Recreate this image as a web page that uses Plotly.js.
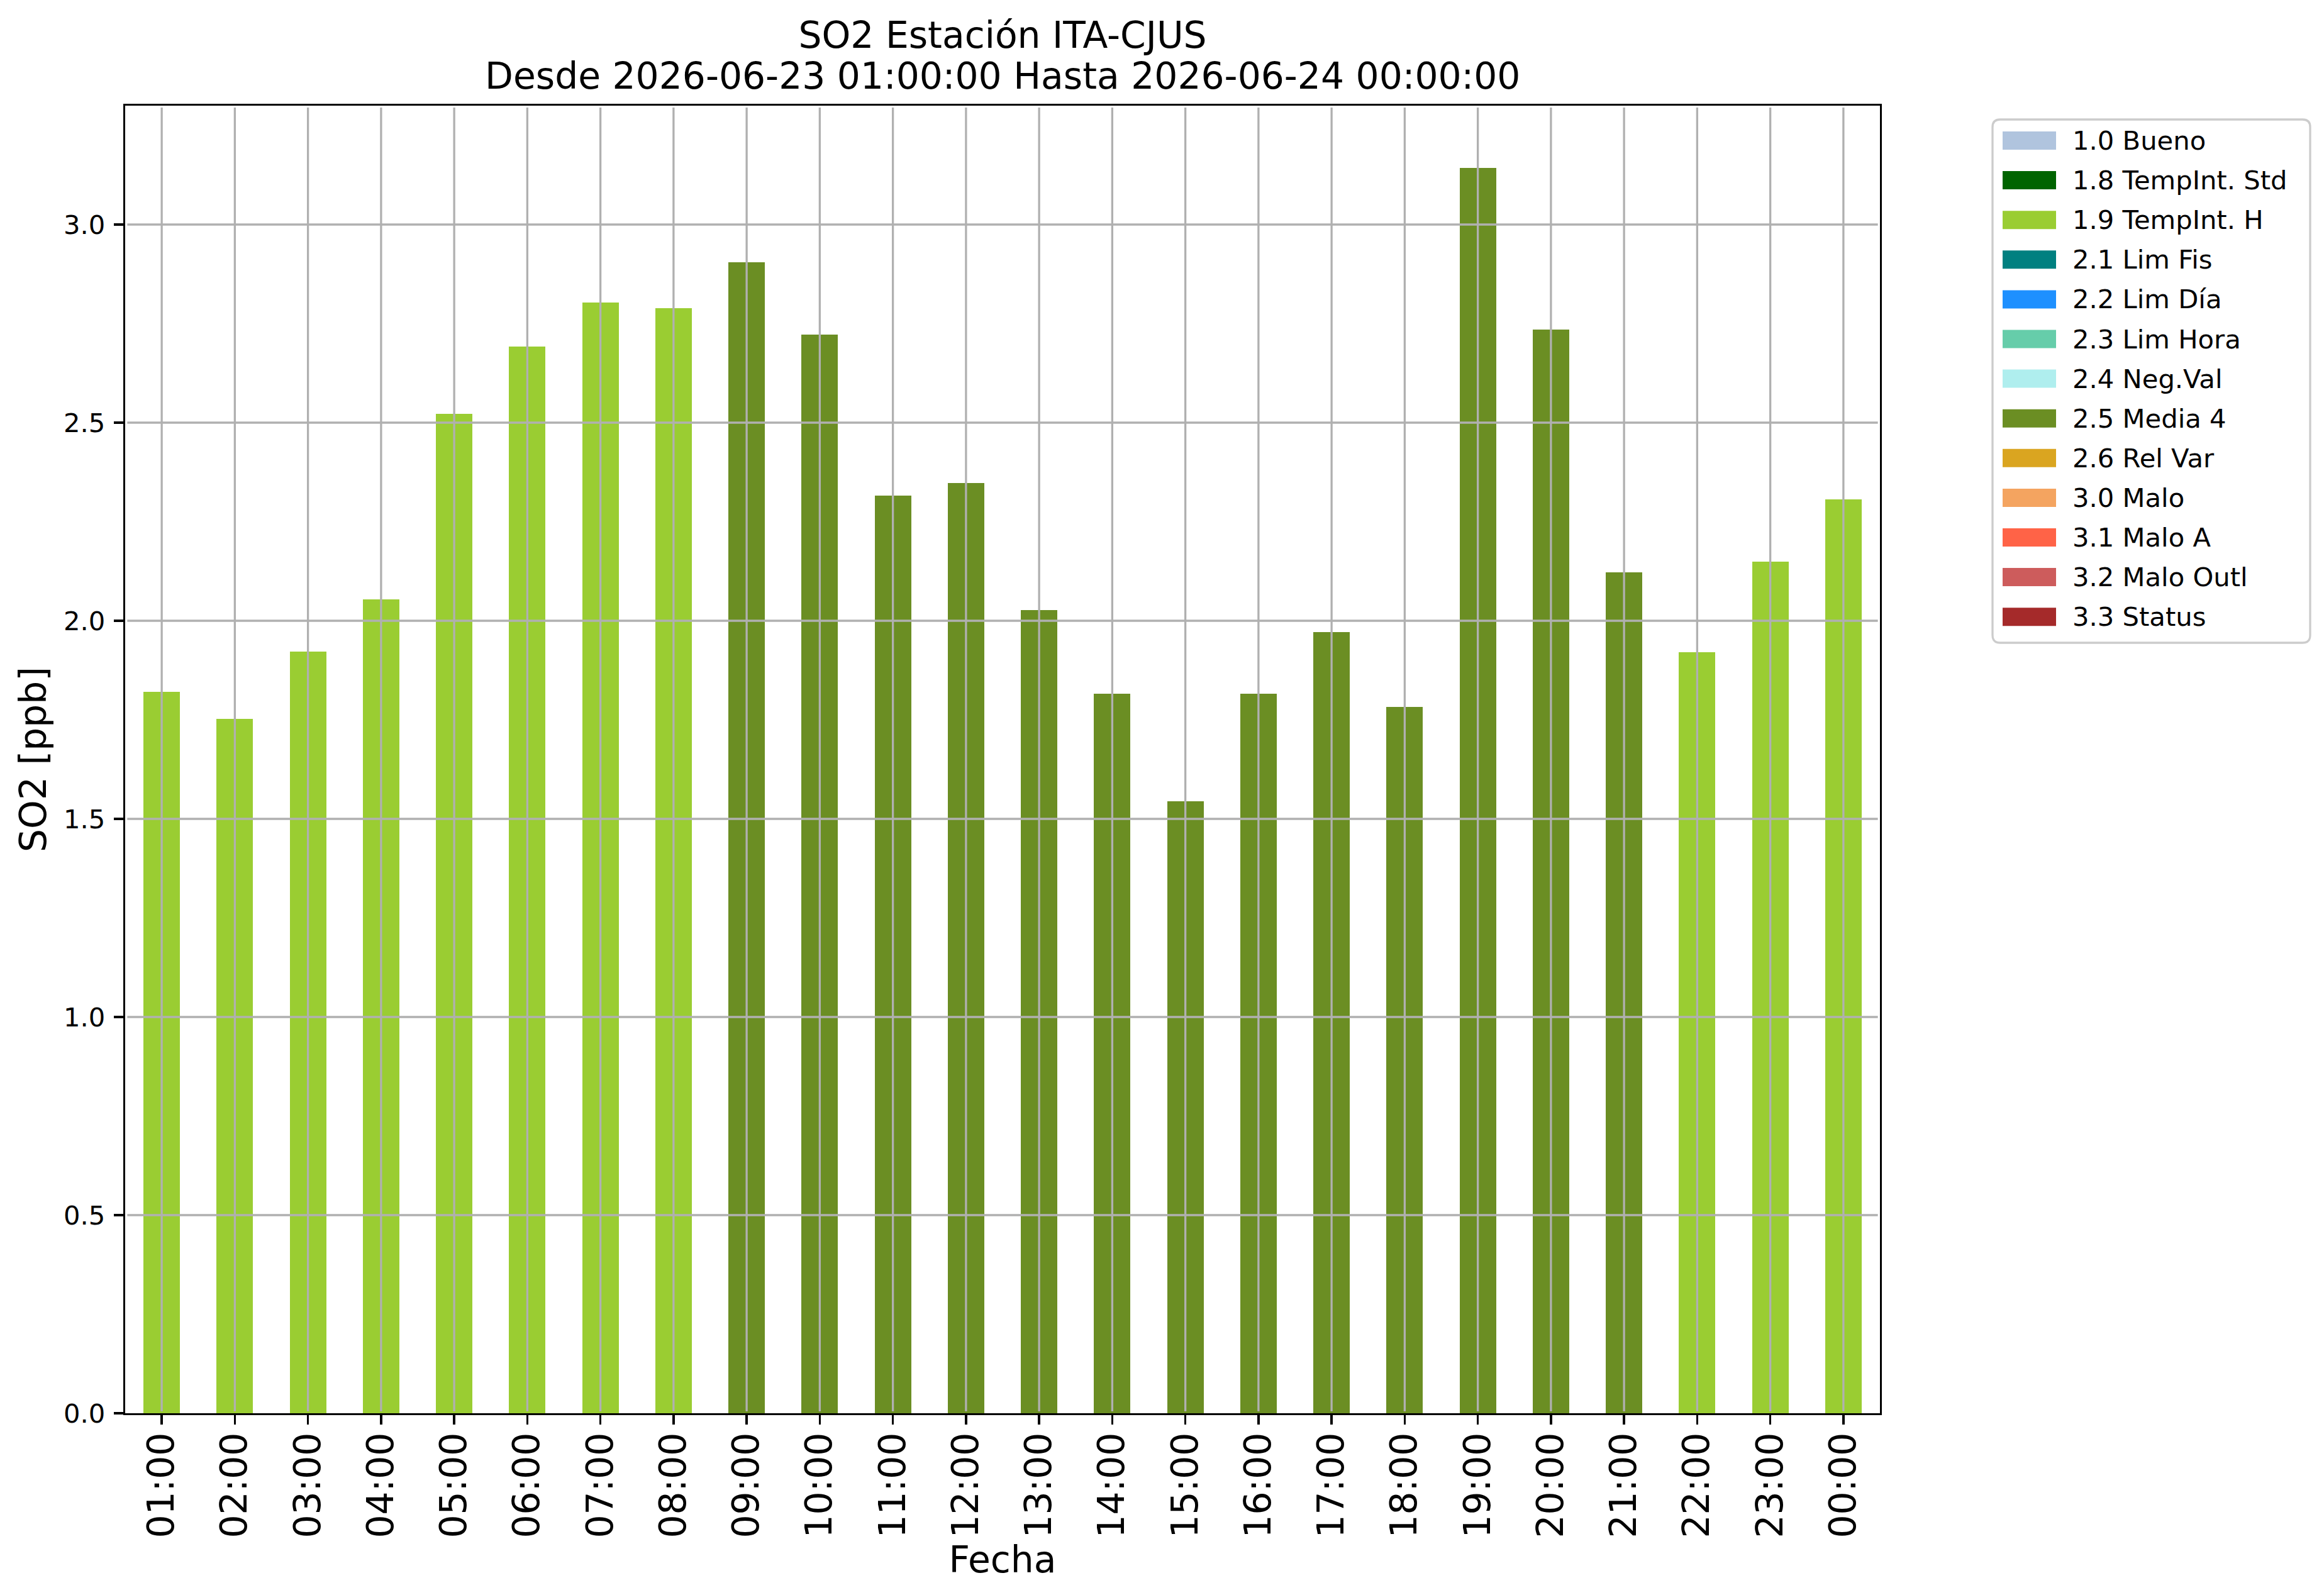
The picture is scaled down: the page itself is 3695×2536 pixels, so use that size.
<!DOCTYPE html>
<html>
<head>
<meta charset="utf-8">
<script src="https://cdn.plot.ly/plotly-3.0.1.min.js"></script>
<style>html,body{margin:0;padding:0;background:#fff;}</style>
</head>
<body>
<div id="chart" style="width:3695px;height:2536px;"></div>
<script>
// ---- data ----
var hours = ['01:00','02:00','03:00','04:00','05:00','06:00','07:00','08:00','09:00','10:00','11:00','12:00',
             '13:00','14:00','15:00','16:00','17:00','18:00','19:00','20:00','21:00','22:00','23:00','00:00'];
var so2 = [1.821, 1.753, 1.922, 2.054, 2.522, 2.692, 2.803, 2.789, 2.904, 2.722, 2.316, 2.347,
           2.027, 1.816, 1.544, 1.816, 1.971, 1.782, 3.143, 2.735, 2.122, 1.921, 2.150, 2.307];
var flags = ['1.9 TempInt. H','1.9 TempInt. H','1.9 TempInt. H','1.9 TempInt. H','1.9 TempInt. H','1.9 TempInt. H',
             '1.9 TempInt. H','1.9 TempInt. H','2.5 Media 4','2.5 Media 4','2.5 Media 4','2.5 Media 4',
             '2.5 Media 4','2.5 Media 4','2.5 Media 4','2.5 Media 4','2.5 Media 4','2.5 Media 4',
             '2.5 Media 4','2.5 Media 4','2.5 Media 4','1.9 TempInt. H','1.9 TempInt. H','1.9 TempInt. H'];
var flagNames = ['1.0 Bueno','1.8 TempInt. Std','1.9 TempInt. H','2.1 Lim Fis','2.2 Lim Día','2.3 Lim Hora',
                 '2.4 Neg.Val','2.5 Media 4','2.6 Rel Var','3.0 Malo','3.1 Malo A','3.2 Malo Outl','3.3 Status'];
var flagColors = ['#B0C4DE','#006400','#9ACD32','#008080','#1E90FF','#66CDAA',
                  '#AFEEEE','#6B8E23','#DAA520','#F4A460','#FF6347','#CD5C5C','#A52A2A'];
var yTickVals = [0, 0.5, 1.0, 1.5, 2.0, 2.5, 3.0];
var yTickText = ['0.0','0.5','1.0','1.5','2.0','2.5','3.0'];
var titleLine1 = 'SO2 Estación ITA-CJUS';
var titleLine2 = 'Desde 2026-06-23 01:00:00 Hasta 2026-06-24 00:00:00';

// ---- geometry ----
var W = 3695, H = 2536;
var L = 199, R = 2989, T = 168, B = 2247;
var FONT = 'DejaVu Sans, Verdana, sans-serif';
function px(x){ return (x - L) / (R - L); }
function py(y){ return (B - y) / (B - T); }

var traces = flagNames.map(function(name, k){
  return {
    type: 'bar',
    name: name,
    x: hours,
    y: so2.map(function(v, i){ return flags[i] === name ? v : 0; }),
    width: 0.5,
    marker: {color: flagColors[k], line: {width: 0}},
    showlegend: false,
    hoverinfo: 'x+y+name'
  };
});

var shapes = [];
var gridColor = '#b0b0b0', gridW = 3.3;
hours.forEach(function(h, i){
  shapes.push({type:'line', xref:'x', yref:'paper', x0:i, x1:i, y0:0.0015, y1:0.9985,
               line:{color:gridColor, width:gridW}, layer:'above'});
});
yTickVals.forEach(function(v){
  if (v === 0) return;
  shapes.push({type:'line', xref:'paper', yref:'y', x0:0.0012, x1:0.9988, y0:v, y1:v,
               line:{color:gridColor, width:gridW}, layer:'above'});
});

// legend box (rounded)
var bx0 = 3168, bx1 = 3673, by0 = 190, by1 = 1022, rr = 12;
function P(x, y){ return px(x) + ',' + py(y); }
var path = 'M' + P(bx0 + rr, by0) + ' L' + P(bx1 - rr, by0) + ' Q' + P(bx1, by0) + ' ' + P(bx1, by0 + rr) +
           ' L' + P(bx1, by1 - rr) + ' Q' + P(bx1, by1) + ' ' + P(bx1 - rr, by1) +
           ' L' + P(bx0 + rr, by1) + ' Q' + P(bx0, by1) + ' ' + P(bx0, by1 - rr) +
           ' L' + P(bx0, by0 + rr) + ' Q' + P(bx0, by0) + ' ' + P(bx0 + rr, by0) + ' Z';
shapes.push({type:'path', xref:'paper', yref:'paper', path:path,
             fillcolor:'rgba(255,255,255,0.8)', line:{color:'#cccccc', width:3.3}, layer:'above'});

var annotations = [];
var row0 = 223.5, rowStep = 63.1;
flagNames.forEach(function(name, k){
  var cy = row0 + k * rowStep;
  shapes.push({type:'rect', xref:'paper', yref:'paper',
               x0:px(3184), x1:px(3269), y0:py(cy + 14.5), y1:py(cy - 14.5),
               fillcolor:flagColors[k], line:{width:0}, layer:'above'});
  annotations.push({xref:'paper', yref:'paper', x:px(3293), y:py(cy), xanchor:'left', yanchor:'middle',
                    text:name, showarrow:false, font:{family:FONT, size:41.7, color:'#000'}});
});
// second title line
annotations.push({xref:'paper', yref:'paper', x:px(1594), y:py(121), xanchor:'center', yanchor:'middle',
                  text:titleLine2, showarrow:false, font:{family:FONT, size:58.3, color:'#000'}});

var layout = {
  width: W, height: H,
  paper_bgcolor: '#fff', plot_bgcolor: '#fff',
  margin: {l: L, r: W - R, t: T, b: H - B, pad: 0},
  barmode: 'stack',
  showlegend: false,
  font: {family: FONT, color: '#000'},
  title: {text: titleLine1, x: px(1594), xref: 'paper', xanchor: 'center',
          y: 1 - 56 / H, yref: 'container', yanchor: 'middle',
          font: {family: FONT, size: 58.3, color: '#000'}},
  xaxis: {
    type: 'category', range: [-0.5, 23.5], autorange: false,
    showgrid: false, zeroline: false,
    showline: true, linecolor: '#000', linewidth: 3.3, mirror: true,
    ticks: 'outside', ticklen: 15, tickwidth: 3.3, tickcolor: '#000',
    tickangle: -90, tickfont: {family: FONT, size: 58.3, color: '#000'},
    ticklabelstandoff: -11,
    title: {text: 'Fecha', font: {family: FONT, size: 58.3, color: '#000'}, standoff: 8},
    automargin: false, layer: 'above traces'
  },
  yaxis: {
    range: [0, 3.3], autorange: false,
    tickvals: yTickVals, ticktext: yTickText,
    showgrid: false, zeroline: false,
    showline: true, linecolor: '#000', linewidth: 3.3, mirror: true,
    ticks: 'outside', ticklen: 15, tickwidth: 3.3, tickcolor: '#000',
    tickfont: {family: FONT, size: 41.7, color: '#000'},
    ticklabelstandoff: 5,
    title: {text: 'SO2 [ppb]', font: {family: FONT, size: 58.3, color: '#000'}, standoff: 9},
    automargin: false, layer: 'above traces'
  },
  shapes: shapes,
  annotations: annotations
};

Plotly.newPlot('chart', traces, layout, {displayModeBar: false, staticPlot: true});
</script>
</body>
</html>
